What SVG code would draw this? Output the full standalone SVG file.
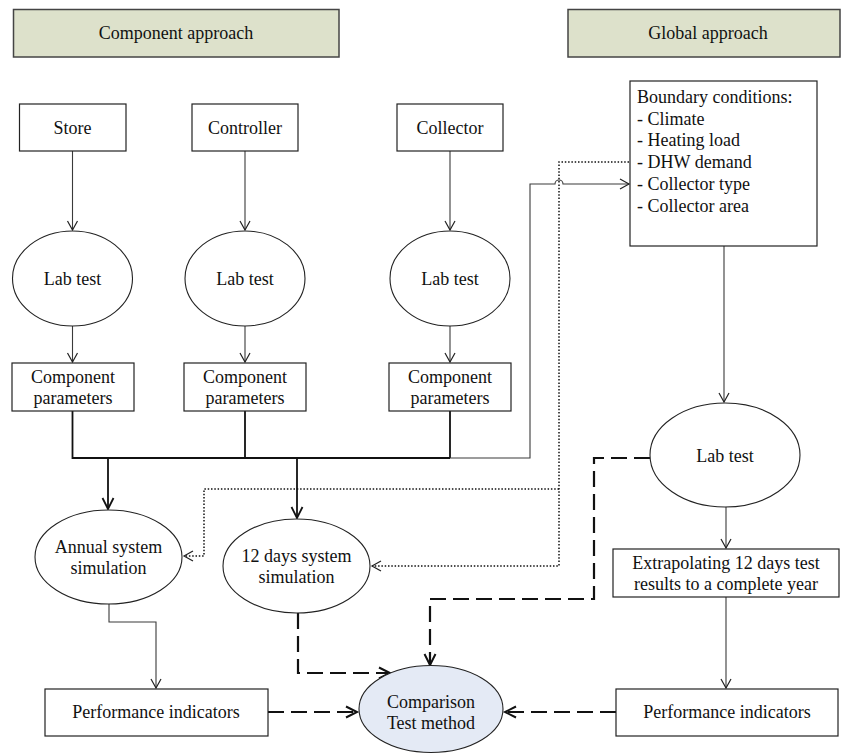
<svg xmlns="http://www.w3.org/2000/svg" width="841" height="755" viewBox="0 0 841 755">
<defs>
<style>
text{font-family:"Liberation Serif","Times New Roman",serif;font-size:18px;fill:#111}
.c{text-anchor:middle}
.box{fill:#fff;stroke:#222;stroke-width:1.2}
.hdr{fill:#dde1cb;stroke:#444;stroke-width:1.5}
.ell{fill:#fff;stroke:#222;stroke-width:1.1}
.thin{fill:none;stroke:#3a3a3a;stroke-width:1.1}
.bus{fill:none;stroke:#111;stroke-width:1.8}
.dot{fill:none;stroke:#111;stroke-width:1.5;stroke-dasharray:1.5 1.8}
.dash{fill:none;stroke:#111;stroke-width:2.2;stroke-dasharray:16 7}
</style>
<marker id="a" markerUnits="userSpaceOnUse" markerWidth="14" markerHeight="14" refX="10" refY="6" orient="auto">
<path d="M1,1 L10,6 L1,11" fill="none" stroke="#222" stroke-width="1.2"/>
</marker>
<marker id="ab" markerUnits="userSpaceOnUse" markerWidth="16" markerHeight="16" refX="12" refY="7" orient="auto">
<path d="M1,1.5 L12,7 L1,12.5" fill="none" stroke="#111" stroke-width="1.8"/>
</marker>
<marker id="ad" markerUnits="userSpaceOnUse" markerWidth="16" markerHeight="16" refX="12" refY="7" orient="auto">
<path d="M1,1.5 L12,7 L1,12.5" fill="none" stroke="#111" stroke-width="2"/>
</marker>
</defs>
<rect width="841" height="755" fill="#fff"/>

<g id="connectors">
<path class="thin" d="M72.5,151 V230" marker-end="url(#a)"/>
<path class="thin" d="M245,151 V230" marker-end="url(#a)"/>
<path class="thin" d="M450,151 V230" marker-end="url(#a)"/>
<path class="thin" d="M72.5,326 V362" marker-end="url(#a)"/>
<path class="thin" d="M245,326 V362" marker-end="url(#a)"/>
<path class="thin" d="M450,326 V362" marker-end="url(#a)"/>
<path class="bus" d="M72.5,411 V458 H450 M245,411 V458 M450,411 V458"/>
<path class="thin" d="M450,458 H530 V184 H555 A4,4 0 0 1 563,184 H629" marker-end="url(#a)"/>
<path class="bus" d="M108,458 V509" marker-end="url(#ab)"/>
<path class="bus" d="M297,458 V518" marker-end="url(#ab)"/>
<path class="dot" d="M629,162 H559 V566 H372" marker-end="url(#a)"/>
<path class="dot" d="M559,489 H204 V556 H184" marker-end="url(#a)"/>
<path class="thin" d="M724,246 V402" marker-end="url(#a)"/>
<path class="thin" d="M726,507 V548" marker-end="url(#a)"/>
<path class="thin" d="M726,597 V688" marker-end="url(#a)"/>
<path class="thin" d="M109,604 V622 H156 V688" marker-end="url(#a)"/>
<path class="dash" d="M650,458 H594 V599 H430 V665" marker-end="url(#ad)"/>
<path class="dash" d="M298,613 V673 H390" marker-end="url(#ad)"/>
<path class="dash" d="M268,712 H357" marker-end="url(#ad)"/>
<path class="dash" d="M616,712 H505" marker-end="url(#ad)"/>
</g>

<g id="hdr-component"><rect class="hdr" x="13.5" y="9.5" width="325.5" height="47.5"/><text class="c" x="176" y="39">Component approach</text></g>
<g id="hdr-global"><rect class="hdr" x="568" y="9.5" width="272" height="47.5"/><text class="c" x="708" y="39">Global approach</text></g>

<g id="store"><rect class="box" x="19.5" y="104" width="106.5" height="47"/><text class="c" x="72.5" y="133.5">Store</text></g>
<g id="controller"><rect class="box" x="192" y="104" width="106" height="47"/><text class="c" x="245" y="133.5">Controller</text></g>
<g id="collector"><rect class="box" x="397" y="104" width="106" height="47"/><text class="c" x="450" y="133.5">Collector</text></g>

<g id="lab1"><ellipse class="ell" cx="72.5" cy="278.5" rx="60" ry="47.5"/><text class="c" x="72.5" y="284.5">Lab test</text></g>
<g id="lab2"><ellipse class="ell" cx="245" cy="278.5" rx="60" ry="47.5"/><text class="c" x="245" y="284.5">Lab test</text></g>
<g id="lab3"><ellipse class="ell" cx="450" cy="278.5" rx="60" ry="47.5"/><text class="c" x="450" y="284.5">Lab test</text></g>

<g id="params1"><rect class="box" x="12" y="363" width="122" height="48"/><text class="c" x="73" y="383">Component</text><text class="c" x="73" y="404">parameters</text></g>
<g id="params2"><rect class="box" x="184" y="363" width="122" height="48"/><text class="c" x="245" y="383">Component</text><text class="c" x="245" y="404">parameters</text></g>
<g id="params3"><rect class="box" x="389" y="363" width="122" height="48"/><text class="c" x="450" y="383">Component</text><text class="c" x="450" y="404">parameters</text></g>

<g id="boundary"><rect class="box" x="630" y="81" width="187" height="165"/>
<text x="637" y="103">Boundary conditions:</text>
<text x="637" y="124.5">- Climate</text>
<text x="637" y="146">- Heating load</text>
<text x="637" y="168">- DHW demand</text>
<text x="637" y="190">- Collector type</text>
<text x="637" y="211.5">- Collector area</text>
</g>

<g id="lab-global"><ellipse class="ell" cx="725" cy="455" rx="75" ry="52"/><text class="c" x="725" y="462">Lab test</text></g>

<g id="annual-sim"><ellipse class="ell" cx="108.5" cy="557" rx="73.5" ry="47"/><text class="c" x="108.5" y="553">Annual system</text><text class="c" x="108.5" y="574">simulation</text></g>
<g id="days-sim"><ellipse class="ell" cx="296.5" cy="566" rx="73.5" ry="47"/><text class="c" x="296.5" y="562">12 days system</text><text class="c" x="296.5" y="583">simulation</text></g>

<g id="extrapolating"><rect class="box" x="613" y="549" width="226" height="48"/><text class="c" x="726" y="569">Extrapolating 12 days test</text><text class="c" x="726" y="590">results to a complete year</text></g>

<g id="perf-left"><rect class="box" x="45" y="689" width="223" height="47"/><text class="c" x="156" y="718">Performance indicators</text></g>
<g id="perf-right"><rect class="box" x="616" y="689" width="222" height="47"/><text class="c" x="727" y="718">Performance indicators</text></g>

<g id="comparison"><ellipse cx="431" cy="709" rx="72" ry="43.5" fill="#e4eaf5" stroke="#222" stroke-width="1.1"/><text class="c" x="431" y="708">Comparison</text><text class="c" x="431" y="729">Test method</text></g>
</svg>
